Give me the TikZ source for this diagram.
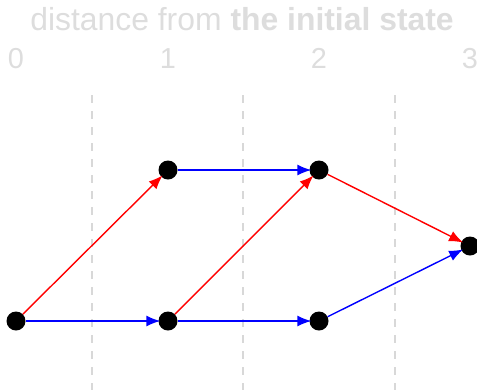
\documentclass[tikz,border=0pt]{standalone}
\usepackage{fontspec}
\setmainfont{Liberation Sans}
\usetikzlibrary{arrows.meta}
\definecolor{lg}{HTML}{DDDDDD}
\definecolor{dg}{HTML}{D8D8D8}
\begin{document}
\begin{tikzpicture}[x=1bp,y=-1bp,
  st/.style={circle,fill=black,inner sep=0pt,minimum size=19bp},
  lbl/.style={text=lg,font=\fontsize{29}{32}\selectfont,anchor=base},
  ttl/.style={text=lg,font=\fontsize{32}{36}\selectfont,anchor=base},
  sep/.style={dg,line width=1.5bp,dash pattern=on 8bp off 8bp},
  ed/.style={line width=1.4bp,-{Latex[length=14bp,width=11bp]},shorten >=-2bp},
  red/.style={ed,draw=red},
  blu/.style={ed,draw=blue}]
\useasboundingbox (0,0) rectangle (477,390);
\node[ttl] (title) at (242,30) {distance from \textbf{the initial state}};
\node[lbl] (l0) at (16,68) {0};
\node[lbl] (l1) at (168,68) {1};
\node[lbl] (l2) at (319,68) {2};
\node[lbl] (l3) at (470,68) {3};
\coordinate (s1t) at (92,95); \coordinate (s1b) at (92,390);
\coordinate (s2t) at (243,95); \coordinate (s2b) at (243,390);
\coordinate (s3t) at (395,95); \coordinate (s3b) at (395,390);
\draw[sep] (s1t) -- (s1b);
\draw[sep] (s2t) -- (s2b);
\draw[sep] (s3t) -- (s3b);
\node[st] (a0) at (16,321) {};
\node[st] (b1) at (168,170) {};
\node[st] (a1) at (168,321) {};
\node[st] (b2) at (319,170) {};
\node[st] (a2) at (319,321) {};
\node[st] (c3) at (470,246) {};
\draw[red] (a0) -- (b1);
\draw[blu] (a0) -- (a1);
\draw[red] (a1) -- (b2);
\draw[blu] (a1) -- (a2);
\draw[blu] (b1) -- (b2);
\draw[red] (b2) -- (c3);
\draw[blu] (a2) -- (c3);
\end{tikzpicture}
\end{document}
